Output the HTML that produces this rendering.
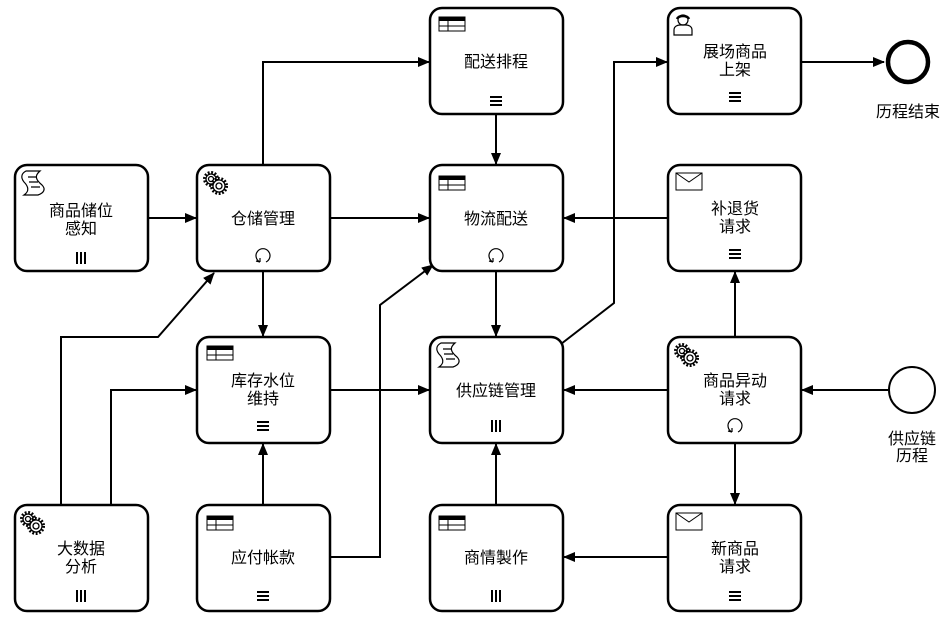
<!DOCTYPE html>
<html><head><meta charset="utf-8"><style>
html,body{margin:0;padding:0;background:#fff;}
svg{display:block;}
text{font-family:"Liberation Sans","Noto Sans CJK SC",sans-serif;font-size:16px;fill:#000;text-anchor:middle;}
</style></head><body>
<svg width="945" height="622" viewBox="0 0 945 622" xmlns="http://www.w3.org/2000/svg">
<defs>
<marker id="ar" markerWidth="12" markerHeight="10" refX="11" refY="5" orient="auto" markerUnits="userSpaceOnUse">
<path d="M0,0 L12,5 L0,10 z" fill="#000"/></marker>
<g id="tbl"><rect x="0" y="0" width="26" height="14" fill="#fff" stroke="#000" stroke-width="1"/><rect x="0" y="0" width="26" height="4" fill="#000"/><line x1="0" y1="9" x2="26" y2="9" stroke="#000"/><line x1="9" y1="4" x2="9" y2="14" stroke="#000"/></g>
<g id="mail"><rect x="0" y="0" width="26" height="17" fill="#fff" stroke="#000" stroke-width="1"/><path d="M0,0 L13,9 L26,0" fill="none" stroke="#000"/></g>
<g id="scr" fill="none" stroke="#000" stroke-width="1.2"><path d="M4,0 H18 C12,5 14,9 20,14 C24,18 22,22 16,24 H2 C8,20 6,15 2,11 C-2,6 0,2 4,0 z"/><path d="M6,6 H14 M7,11 H16 M9,16 H18"/></g>
<g id="gear" fill="none" stroke="#000" stroke-width="1.3"><circle cx="8" cy="8" r="6.5" stroke-width="3" stroke-dasharray="1.8 1.6"/><circle cx="8" cy="8" r="5" fill="#fff"/><circle cx="8" cy="8" r="2.5"/><circle cx="16" cy="15" r="7.5" stroke-width="3" stroke-dasharray="1.8 1.6"/><circle cx="16" cy="15" r="6" fill="#fff"/><circle cx="16" cy="15" r="3"/></g>
<g id="user" fill="none" stroke="#000" stroke-width="1.2"><circle cx="10" cy="7" r="5"/><path d="M4,6 C6,2 14,2 16,6" stroke-width="2.5"/><path d="M1,22 V17 C1,13 5,12 7,12 H13 C15,12 19,13 19,17 V22 z"/></g>
<g id="seq"><rect x="-6" y="-5" width="12" height="2" fill="#000"/><rect x="-6" y="-1" width="12" height="2" fill="#000"/><rect x="-6" y="3" width="12" height="2" fill="#000"/></g>
<g id="par"><rect x="-5" y="-6" width="2" height="12" fill="#000"/><rect x="-1" y="-6" width="2" height="12" fill="#000"/><rect x="3" y="-6" width="2" height="12" fill="#000"/></g>
<g id="loop" fill="none" stroke="#000" stroke-width="1.2"><path d="M-3,6 A7,7 0 1 1 3,6"/><path d="M-3,6 L-7,5 M-3,6 L-3,2"/></g>
</defs>

<g fill="none" stroke="#000" stroke-width="2" marker-end="url(#ar)">
<path d="M148,218 H196"/>
<path d="M263,165 V62 H429"/>
<path d="M330,218 H429"/>
<path d="M263,271 V336"/>
<path d="M496,114 V164"/>
<path d="M496,271 V336"/>
<path d="M668,218 H564"/>
<path d="M561,344 L614,303 V62 H667"/>
<path d="M735,337 V272"/>
<path d="M668,390 H564"/>
<path d="M735,443 V504"/>
<path d="M888,390 H802"/>
<path d="M801,62 H884"/>
<path d="M668,557 H564"/>
<path d="M496,505 V444"/>
<path d="M330,390 H429"/>
<path d="M263,505 V444"/>
<path d="M330,557 H380 V305 L433,265"/>
<path d="M61,505 V337 H158 L214,273"/>
<path d="M111,505 V390 H196"/>
</g>

<g fill="#fff" stroke="#000" stroke-width="2.5">
<rect x="15" y="165" width="133" height="106" rx="12"/>
<rect x="197" y="165" width="133" height="106" rx="12"/>
<rect x="430" y="8" width="133" height="106" rx="12"/>
<rect x="430" y="165" width="133" height="106" rx="12"/>
<rect x="668" y="8" width="133" height="106" rx="12"/>
<rect x="668" y="165" width="133" height="106" rx="12"/>
<rect x="197" y="337" width="133" height="106" rx="12"/>
<rect x="430" y="337" width="133" height="106" rx="12"/>
<rect x="668" y="337" width="133" height="106" rx="12"/>
<rect x="15" y="505" width="133" height="106" rx="12"/>
<rect x="197" y="505" width="133" height="106" rx="12"/>
<rect x="430" y="505" width="133" height="106" rx="12"/>
<rect x="668" y="505" width="133" height="106" rx="12"/>
</g>
<circle cx="908" cy="62" r="20" fill="#fff" stroke="#000" stroke-width="4.5"/>
<circle cx="912" cy="390" r="23" fill="#fff" stroke="#000" stroke-width="2"/>
<text x="908" y="117">历程结束</text>
<text x="912" y="444">供应链</text>
<text x="912" y="461">历程</text>

<use href="#scr" x="22" y="171"/>
<use href="#gear" x="203" y="171"/>
<use href="#tbl" x="439" y="17"/>
<use href="#tbl" x="439" y="176"/>
<use href="#user" x="673" y="13"/>
<use href="#mail" x="676" y="173"/>
<use href="#tbl" x="207" y="346"/>
<use href="#scr" x="437" y="343"/>
<use href="#gear" x="674" y="343"/>
<use href="#gear" x="20" y="511"/>
<use href="#tbl" x="207" y="516"/>
<use href="#tbl" x="439" y="516"/>
<use href="#mail" x="676" y="513"/>

<text x="81" y="216">商品储位</text><text x="81" y="234">感知</text>
<text x="263" y="224">仓储管理</text>
<text x="496" y="67">配送排程</text>
<text x="496" y="224">物流配送</text>
<text x="735" y="57">展场商品</text><text x="735" y="75">上架</text>
<text x="735" y="214">补退货</text><text x="735" y="232">请求</text>
<text x="263" y="386">库存水位</text><text x="263" y="404">维持</text>
<text x="496" y="396">供应链管理</text>
<text x="735" y="386">商品异动</text><text x="735" y="404">请求</text>
<text x="81" y="554">大数据</text><text x="81" y="572">分析</text>
<text x="263" y="563">应付帐款</text>
<text x="496" y="563">商情製作</text>
<text x="735" y="554">新商品</text><text x="735" y="572">请求</text>

<use href="#par" x="81" y="258"/>
<use href="#loop" x="263" y="256"/>
<use href="#seq" x="496" y="101"/>
<use href="#loop" x="496" y="256"/>
<use href="#seq" x="735" y="97"/>
<use href="#seq" x="735" y="254"/>
<use href="#seq" x="263" y="426"/>
<use href="#par" x="496" y="426"/>
<use href="#loop" x="735" y="426"/>
<use href="#par" x="81" y="596"/>
<use href="#seq" x="263" y="596"/>
<use href="#par" x="496" y="596"/>
<use href="#seq" x="735" y="596"/>
</svg>
</body></html>
